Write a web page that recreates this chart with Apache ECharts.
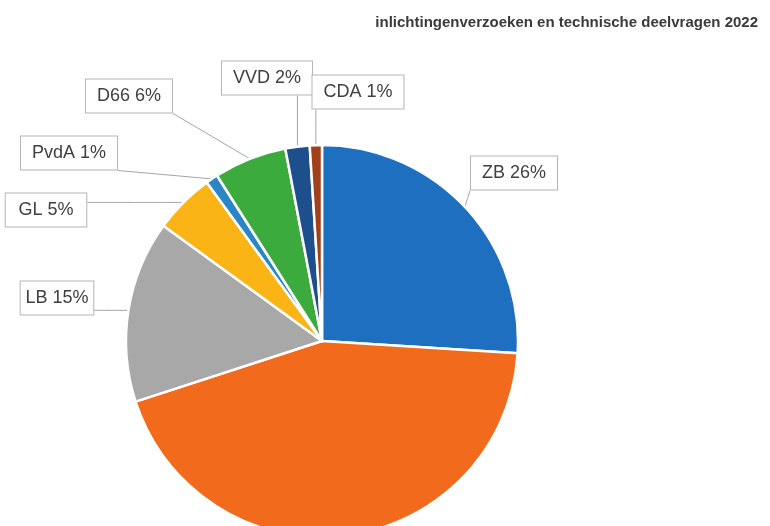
<!DOCTYPE html>
<html>
<head>
<meta charset="utf-8">
<script src="https://cdn.jsdelivr.net/npm/echarts@6/dist/echarts.min.js"></script>
<style>
  html, body { margin: 0; padding: 0; background: #fff; }
  #main { width: 770px; height: 526px; }
</style>
</head>
<body>
<div id="main"></div>
<script>
// partijen en aandeel (%)
var parties = ['ZB', 'Overig', 'LB', 'GL', 'PvdA', 'D66', 'VVD', 'CDA'];
var shares = [26, 44, 15, 5, 1, 6, 2, 1];
var colors = ['#1f6fc0', '#f26a1b', '#a8a8a8', '#fbb416', '#2a86c6', '#3aab3c', '#1d4f8c', '#a0401c'];
var showLabel = [true, false, true, true, true, true, true, true];

// waar de labels staan (midden van het kader)
var labelPos = {
  'ZB': [514, 173],
  'LB': [57, 298],
  'GL': [46, 210],
  'PvdA': [69, 153],
  'D66': [129, 96],
  'VVD': [267, 78],
  'CDA': [358, 92]
};

var chart = echarts.init(document.getElementById('main'));

var data = parties.map(function (p, i) {
  return {
    name: p,
    value: shares[i],
    itemStyle: { color: colors[i] },
    label: { show: showLabel[i] },
    labelLine: { show: showLabel[i] }
  };
});

var option = {
  animation: false,
  title: {
    text: 'inlichtingenverzoeken en technische deelvragen 2022',
    right: 7,
    top: 10,
    textStyle: {
      fontFamily: 'Liberation Sans',
      fontSize: 15,
      fontWeight: 'bold',
      color: '#3a3a3a'
    }
  },
  series: [{
    type: 'pie',
    center: [322, 341],
    radius: 196,
    startAngle: 90,
    clockwise: true,
    data: data,
    itemStyle: {
      borderColor: '#fff',
      borderWidth: 2.5
    },
    label: {
      formatter: function (p) { return p.name + ' ' + p.value + '%'; },
      fontFamily: 'Liberation Sans',
      fontSize: 18,
      color: '#404040',
      backgroundColor: '#fff',
      borderColor: '#b5b5b5',
      borderWidth: 1,
      padding: [8, 11, 7, 11],
      overflow: 'none'
    },
    labelLine: {
      lineStyle: { color: '#a5a5a5', width: 1 }
    },
    labelLayout: function (params) {
      var pos = labelPos[parties[params.dataIndex]];
      if (!pos) return {};
      var w = params.labelRect.width, h = params.labelRect.height;
      var p0 = params.labelLinePoints ? params.labelLinePoints[0] : null;
      var res = { x: pos[0], y: pos[1], align: 'center', verticalAlign: 'middle' };
      if (p0) {
        // rechte lijn van de rand van de taart naar het dichtstbijzijnde punt van het kader
        var x1 = Math.max(pos[0] - w / 2, Math.min(p0[0], pos[0] + w / 2));
        var y1 = Math.max(pos[1] - h / 2, Math.min(p0[1], pos[1] + h / 2));
        res.labelLinePoints = [p0, [(p0[0] + x1) / 2, (p0[1] + y1) / 2], [x1, y1]];
      }
      return res;
    }
  }]
};

chart.setOption(option);
</script>
</body>
</html>
